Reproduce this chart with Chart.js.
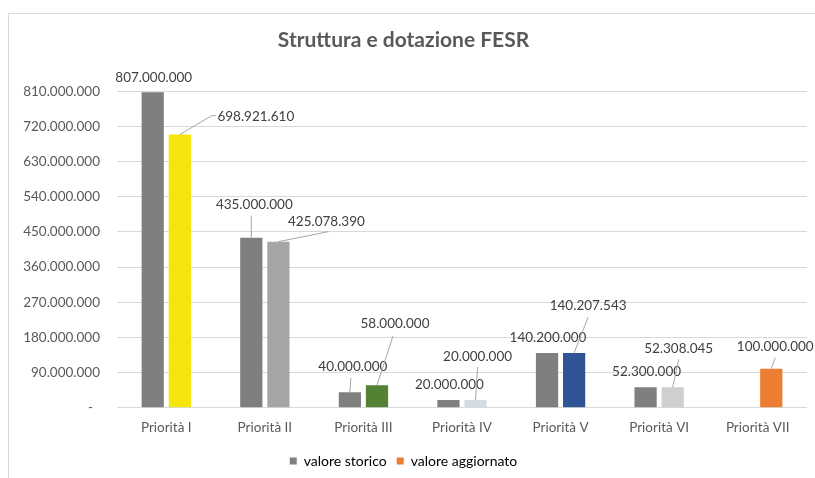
<!DOCTYPE html>
<html>
<head>
<meta charset="utf-8">
<script src="https://cdn.jsdelivr.net/npm/chart.js@4"></script>
<style>
  html, body { margin: 0; padding: 0; background: #fff; }
  #box { position: relative; width: 815px; height: 478px; }
</style>
</head>
<body>
<div id="box"><canvas id="chartFesr" width="815" height="478"></canvas></div>
<script>
/* dati del grafico */
const categorie = ["Priorità I", "Priorità II", "Priorità III", "Priorità IV", "Priorità V", "Priorità VI", "Priorità VII"];
const valoreStorico = [807000000, 435000000, 40000000, 20000000, 140200000, 52300000, null];
const valoreAggiornato = [698921610, 425078390, 58000000, 20000000, 140207543, 52308045, 100000000];
const tickY = [0, 90000000, 180000000, 270000000, 360000000, 450000000, 540000000, 630000000, 720000000, 810000000];

/* colori */
const coloreStorico = "#7f7f7f";
const coloriAggiornato = ["#f5e50a", "#a5a5a5", "#548235", "#d6dce5", "#2f5597", "#d0cece", "#ed7d31"];
const coloreLegendaAggiornato = "#ed7d31";

/* posizione etichette: [dx, dy] dal centro-alto della barra, e punti della linea guida */
const etichetteStorico = [
  { d: [1, -15] },
  { d: [3, -33], linea: [[0, -22]] },
  { d: [3, -26], linea: [[1, -14]] },
  { d: [1, -15] },
  { d: [1, -15] },
  { d: [1, -16] },
  null,
];
const etichetteAggiornato = [
  { d: [76, -18], linea: [[32, -19], [36, -19]] },
  { d: [48, -20], linea: [[50, -10]] },
  { d: [18, -61], linea: [[16, -49]] },
  { d: [2, -43], linea: [[2, -33]] },
  { d: [14, -47], linea: [[14, -36]] },
  { d: [6, -39], linea: [[6, -28]] },
  { d: [4, -22], linea: [[4, -11]] },
];

const formatoNumero = (v) => {
  if (v === 0) return "-  ";
  return String(Math.round(v)).replace(/\B(?=(\d{3})+(?!\d))/g, ".");
};

Chart.defaults.font.family = "Lato";
Chart.defaults.color = "#595959";

/* cornice del grafico */
const cornice = {
  id: "cornice",
  beforeDraw(chart) {
    const ctx = chart.ctx;
    ctx.save();
    ctx.strokeStyle = "#d9d9d9";
    ctx.lineWidth = 1;
    ctx.beginPath();
    ctx.moveTo(8.5, 478);
    ctx.lineTo(8.5, 13.5);
    ctx.lineTo(815, 13.5);
    ctx.stroke();
    ctx.restore();
  },
};

/* etichette dei valori con linee guida */
const etichette = {
  id: "etichette",
  afterDatasetsDraw(chart) {
    const ctx = chart.ctx;
    const posizioni = [etichetteStorico, etichetteAggiornato];
    ctx.save();
    chart.data.datasets.forEach((ds, i) => {
      const meta = chart.getDatasetMeta(i);
      meta.data.forEach((bar, j) => {
        const valore = ds.data[j];
        const pos = posizioni[i][j];
        if (valore === null || !pos) return;
        if (pos.linea) {
          ctx.strokeStyle = "#a6a6a6";
          ctx.lineWidth = 1;
          ctx.beginPath();
          ctx.moveTo(bar.x, bar.y);
          pos.linea.forEach((p) => ctx.lineTo(bar.x + p[0], bar.y + p[1]));
          ctx.stroke();
        }
        ctx.fillStyle = "#404040";
        ctx.font = "13.5px Lato";
        ctx.textAlign = "center";
        ctx.textBaseline = "middle";
        ctx.fillText(formatoNumero(valore), bar.x + pos.d[0], bar.y + pos.d[1]);
      });
    });
    ctx.restore();
  },
};

const canvas = document.getElementById("chartFesr");
const context = canvas.getContext("2d");

const chartFesr = new Chart(context, {
  type: "bar",
  data: {
    labels: categorie,
    datasets: [
      {
        label: "valore storico",
        data: valoreStorico,
        backgroundColor: coloreStorico,
        legendColor: coloreStorico,
      },
      {
        label: "valore aggiornato",
        data: valoreAggiornato,
        backgroundColor: coloriAggiornato,
        legendColor: coloreLegendaAggiornato,
      },
    ],
  },
  options: {
    responsive: false,
    animation: false,
    categoryPercentage: 0.55,
    barPercentage: 0.82,
    layout: { padding: { left: 0, right: 8, top: 0, bottom: 0 } },
    plugins: {
      title: {
        display: true,
        text: "Struttura e dotazione FESR",
        color: "#595959",
        font: { size: 21, weight: "bold" },
        padding: { top: 28, bottom: 38 },
      },
      legend: {
        position: "bottom",
        labels: {
          boxWidth: 7,
          boxHeight: 7,
          padding: 10,
          color: "#595959",
          font: { size: 14 },
          generateLabels(chart) {
            return chart.data.datasets.map((ds, i) => ({
              text: ds.label,
              fillStyle: ds.legendColor,
              strokeStyle: ds.legendColor,
              lineWidth: 0,
              datasetIndex: i,
            }));
          },
        },
      },
      tooltip: { enabled: false },
    },
    scales: {
      x: {
        grid: { display: false, drawTicks: false },
        border: { display: false },
        ticks: { padding: 12, font: { size: 13.5 }, color: "#595959" },
        afterFit(scale) { scale.height = scale.height - 4; },
      },
      y: {
        min: 0,
        max: 810000000,
        afterBuildTicks(scale) { scale.ticks = tickY.map((v) => ({ value: v })); },
        grid: { color: "#d9d9d9", drawTicks: false },
        border: { display: false },
        ticks: { padding: 17, font: { size: 13.5 }, color: "#595959", callback: (v) => formatoNumero(v) },
        afterFit(scale) { scale.width = 117; },
      },
    },
  },
  plugins: [cornice, etichette],
});
</script>
</body>
</html>
